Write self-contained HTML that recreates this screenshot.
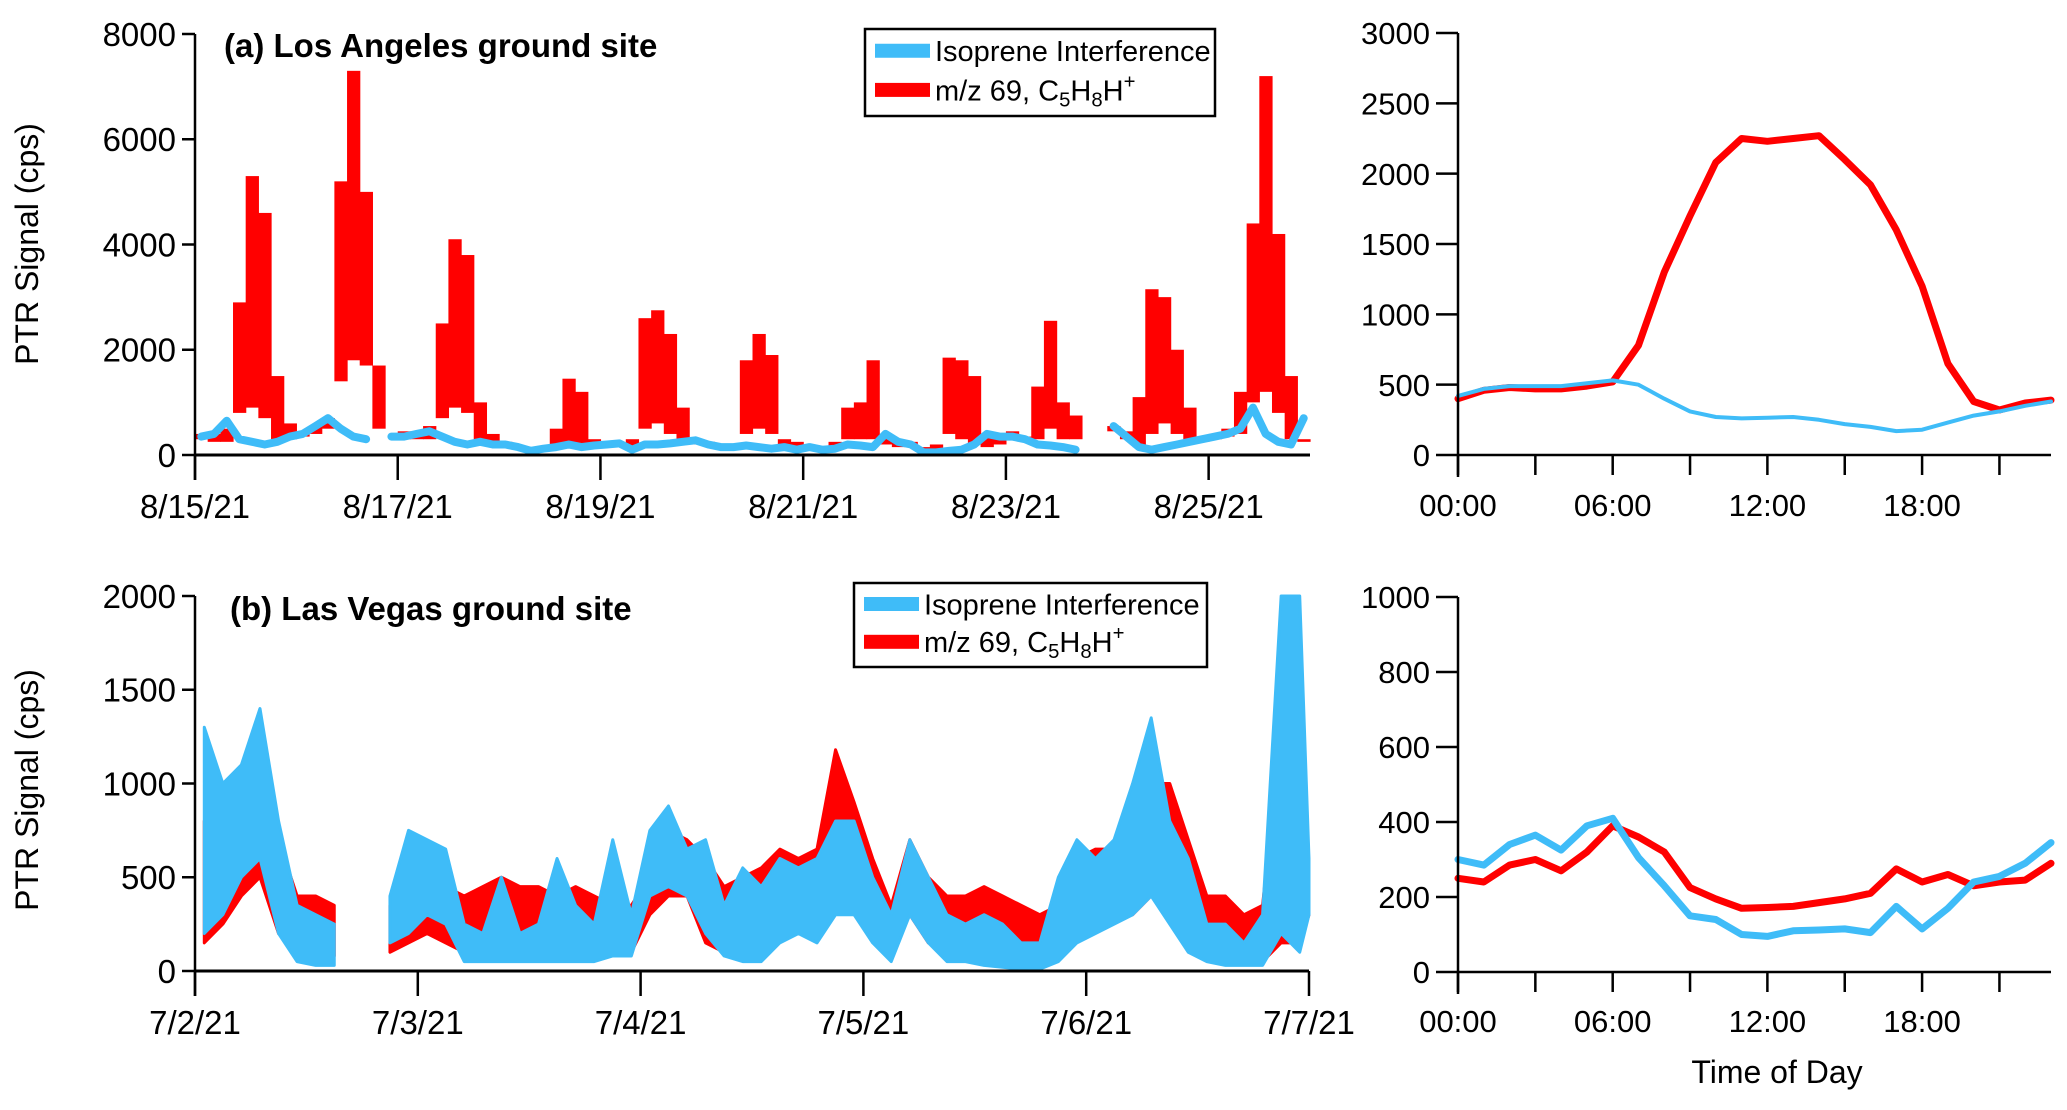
<!DOCTYPE html>
<html><head><meta charset="utf-8"><style>
html,body{margin:0;padding:0;background:#fff;}
svg{display:block;font-family:"Liberation Sans",sans-serif;}
</style></head><body>
<svg id="fig" width="2067" height="1110" viewBox="0 0 2067 1110" xmlns="http://www.w3.org/2000/svg">
<g id="layer"></g>
</svg>
<script>
// ---------- Data ----------
// Panel a: Los Angeles, 3-hour bins from 8/15/21 00:00 (11 days x 8 bins)
const laRedMax = [400,400,500,2900,5300,4600,1500,600, 450,550,700,5200,7300,5000,1700,null, 450,400,550,2500,4100,3800,1000,400, 250,150,100,150,500,1450,1200,300, 200,200,300,2600,2750,2300,900,300, 250,200,200,1800,2300,1900,300,250, 150,150,250,900,1000,1800,400,250, 250,150,200,1850,1800,1500,400,400, 450,350,1300,2550,1000,750,null,null, 550,450,1100,3150,3000,2000,900,350, 400,500,1200,4400,7200,4200,1500,300];
const laRedMin = [300,250,250,800,900,700,300,300, 350,400,500,1400,1800,1700,500,null, 300,300,300,700,900,800,300,200, 150,100,50,100,150,200,200,150, 150,150,150,500,600,400,200,200, 200,150,150,400,500,400,150,150, 100,100,100,300,300,300,200,150, 150,50,50,400,300,200,150,200, 300,250,300,500,300,300,null,null, 450,300,150,400,600,400,200,250, 300,350,400,1000,1200,800,300,250];
const laBlue = [350,400,650,300,250,200,250,350, 400,550,700,500,350,300,null,350, 350,400,450,350,250,200,250,200, 200,150,80,120,150,200,150,180, 200,220,100,200,200,220,250,280, 200,150,150,180,150,120,150,100, 150,100,120,200,180,150,400,250, 200,50,50,80,100,200,400,350, 350,300,200,180,150,100,null,null, 550,350,150,100,150,200,250,300, 350,400,500,900,400,250,200,700];
// Panel b: Las Vegas, 2-hour bins from 7/2/21 00:00
const lvRedMax = [800,700,900,1000,700,400,400,350,null,null,350,450,500,450,400,450,500,450,450,400,450,400,350,350,500,750,700,600,450,500,550,650,600,650,1180,900,600,350,700,500,400,400,450,400,350,300,350,600,650,650,900,1000,1000,700,400,400,300,350,1300,800,550];
const lvRedMin = [150,250,400,500,200,100,100,80,null,null,100,150,200,150,100,150,150,150,150,100,100,100,100,100,300,400,400,150,100,100,150,200,250,300,400,350,200,100,300,150,100,100,100,100,80,80,100,200,250,300,300,400,300,150,100,100,80,50,150,150,300];
const lvBlueMax = [1300,1000,1100,1400,800,350,300,250,null,null,400,750,700,650,250,200,500,200,250,600,350,250,700,300,750,880,650,700,350,550,450,600,550,600,800,800,500,300,700,500,300,250,300,250,150,150,500,700,600,700,1000,1350,800,600,250,250,150,300,2000,2000,600];
const lvBlueMin = [200,300,500,600,200,50,30,30,null,null,150,200,300,250,50,50,50,50,50,50,50,50,80,80,400,450,400,200,80,50,50,150,200,150,300,300,150,50,300,150,50,50,30,20,10,10,50,150,200,250,300,400,250,100,50,30,30,30,200,100,300];
// Diurnal (hourly, 0..23)
const hours = [0,1,2,3,4,5,6,7,8,9,10,11,12,13,14,15,16,17,18,19,20,21,22,23];
const laDiurnalRed = [400,460,480,470,470,490,520,780,1300,1700,2080,2250,2230,2250,2270,2100,1920,1600,1200,650,380,320,370,390];
const laDiurnalBlue = [420,470,490,490,490,510,530,500,400,310,270,260,265,270,250,220,200,170,180,230,280,310,350,380];
const lvDiurnalRed = [250,240,285,300,270,320,390,360,320,225,195,170,172,175,185,195,210,275,240,260,230,240,245,290];
const lvDiurnalBlue = [300,285,340,365,325,390,410,305,230,150,140,100,95,110,112,115,105,175,115,170,240,255,290,345];
// Tick labels
const laYTicks = [0,2000,4000,6000,8000];
const laXTickLabels = ["8/15/21","8/17/21","8/19/21","8/21/21","8/23/21","8/25/21"];
const lvYTicks = [0,500,1000,1500,2000];
const lvXTickLabels = ["7/2/21","7/3/21","7/4/21","7/5/21","7/6/21","7/7/21"];
const dTopYTicks = [0,500,1000,1500,2000,2500,3000];
const dBotYTicks = [0,200,400,600,800,1000];
const dXTickLabels = ["00:00","06:00","12:00","18:00"];

const RED="#ff0000", BLUE="#3fbcf8";
const NS="http://www.w3.org/2000/svg";
const layer=document.getElementById('layer');
function mk(tag,attrs,parent){const e=document.createElementNS(NS,tag);for(const k in attrs)e.setAttribute(k,attrs[k]);(parent||layer).appendChild(e);return e;}
function txt(s,x,y,size,anchor,parent,extra){const t=mk('text',Object.assign({x:x,y:y,'font-size':size,'text-anchor':anchor||'middle',fill:'#000'},extra||{}),parent);t.textContent=s;return t;}
function scale(d0,d1,r0,r1){return v=>r0+(v-d0)/(d1-d0)*(r1-r0);}

function band(xf,yf,maxA,minA,color,parent){
  let seg=[];
  const flush=()=>{ if(seg.length){ const top=seg.map(i=>[xf(i),yf(maxA[i])]); const bot=seg.slice().reverse().map(i=>[xf(i),yf(minA[i])]);
    const p=mk('polygon',{points:top.concat(bot).map(q=>q.join(',')).join(' '),fill:color,stroke:color,'stroke-width':3,'stroke-linejoin':'round'},parent);
    
    
    seg=[];}};
  for(let i=0;i<maxA.length;i++){ if(maxA[i]==null) flush(); else seg.push(i);} flush();
}
function stepBars(x0f,x1f,yf,maxA,minA,color,parent){
  for(let i=0;i<maxA.length;i++){ if(maxA[i]==null) continue;
    const r=mk('rect',{x:x0f(i),y:yf(maxA[i]),width:x1f(i)-x0f(i)+0.6,height:yf(minA[i])-yf(maxA[i]),fill:color},parent);
    
    
  }
}
function line(xs,ys,color,w,parent,name){
  let d='',pen=false;
  for(let i=0;i<ys.length;i++){ if(ys[i]==null){pen=false;continue;} d+=(pen?'L':'M')+xs(i).toFixed(1)+','+ys[i].toFixed(1); pen=true;}
  const p=mk('path',{d:d,fill:'none',stroke:color,'stroke-width':w,'stroke-linejoin':'round','stroke-linecap':'round'},parent);
  
  
  return p;
}
function yaxis(g,x,yf,ticks,tickLen,fs,top,bottom){
  mk('line',{x1:x,y1:top,x2:x,y2:bottom,stroke:'#000','stroke-width':2.5},g);
  ticks.forEach(v=>{const y=yf(v);mk('line',{x1:x-tickLen,y1:y,x2:x,y2:y,stroke:'#000','stroke-width':2.5},g);
    const t=txt(String(v),x-tickLen-6,y+fs*0.36,fs,'end',g);
    
    });
}
function legend(g,x,y,w,h,fs){
  const L=mk('g',{},g);
  
  
  mk('rect',{x:x,y:y,width:w,height:h,fill:'#fff',stroke:'#000','stroke-width':2.5},L);
  const e1=mk('rect',{x:x+10,y:y+h*0.25-7,width:55,height:14,fill:BLUE},L);
  
  
  txt('Isoprene Interference',x+70,y+h*0.25+fs*0.36,fs,'start',L);
  const e2=mk('rect',{x:x+10,y:y+h*0.7-7,width:55,height:14,fill:RED},L);
  
  
  const t=mk('text',{x:x+70,y:y+h*0.7+fs*0.36,'font-size':fs,fill:'#000'},L);
  t.innerHTML='m/z 69, C<tspan font-size="'+(fs*0.7)+'" dy="6">5</tspan><tspan dy="-6">H</tspan><tspan font-size="'+(fs*0.7)+'" dy="6">8</tspan><tspan dy="-6">H</tspan><tspan font-size="'+(fs*0.7)+'" dy="-12">+</tspan>';
}

// ---------- Panel a ----------
(function(){
  const g=mk('g',{});  
  const X0=195,X1=1310,Y0=455,Y1=34;
  const xDay=scale(0,11,X0,X1), y=scale(0,8000,Y0,Y1);
  const xb=i=>xDay((i+0.5)*3/24);
  stepBars(i=>xDay(i*3/24),i=>xDay((i+1)*3/24),y,laRedMax,laRedMin,RED,g);
  line(xb,laBlue.map(v=>v==null?null:y(v)),BLUE,8,g,'isoprene-interference-line');
  yaxis(g,X0,y,laYTicks,13,33,Y1,480);
  mk('line',{x1:X0,y1:Y0,x2:X1,y2:Y0,stroke:'#000','stroke-width':3},g);
  laXTickLabels.forEach((s,i)=>{const x=xDay(i*2);mk('line',{x1:x,y1:Y0,x2:x,y2:480,stroke:'#000','stroke-width':2.5},g);
    const t=txt(s,x,518,33,'middle',g);  });
  const ti=txt('(a) Los Angeles ground site',224,57,33,'start',g,{'font-weight':'bold'});
   
  const yl=txt('PTR Signal (cps)',0,0,32,'middle',g,{transform:'translate(38,244) rotate(-90)'});
   
  legend(g,865,29,350,87,29);
})();

// ---------- Panel b ----------
(function(){
  const g=mk('g',{});  
  const X0=195,X1=1309,Y0=971,Y1=596;
  const xDay=scale(0,5,X0,X1), y=scale(0,2000,Y0,Y1);
  const xb=i=>xDay(Math.min(i*2+1,120)/24);
  band(xb,y,lvRedMax,lvRedMin,RED,g);
  band(xb,y,lvBlueMax,lvBlueMin,BLUE,g);
  yaxis(g,X0,y,lvYTicks,13,33,Y1,996);
  mk('line',{x1:X0,y1:Y0,x2:X1,y2:Y0,stroke:'#000','stroke-width':3},g);
  lvXTickLabels.forEach((s,i)=>{const x=xDay(i);mk('line',{x1:x,y1:Y0,x2:x,y2:996,stroke:'#000','stroke-width':2.5},g);
    const t=txt(s,x,1034,33,'middle',g);  });
  const ti=txt('(b) Las Vegas ground site',230,620,33,'start',g,{'font-weight':'bold'});
   
  const yl=txt('PTR Signal (cps)',0,0,32,'middle',g,{transform:'translate(38,790) rotate(-90)'});
   
  legend(g,854,583,353,84,29);
})();

// ---------- Diurnal panels ----------
function diurnal(name,Y0,Y1,ymax,ticks,red,blue,blueW,labY){
  const g=mk('g',{});  
  const X0=1458,X1=2051;
  const x=scale(0,23,X0,X1), y=scale(0,ymax,Y0,Y1);
  line(i=>x(hours[i]),red.map(y),RED,7,g,'mz69-diurnal-line');
  line(i=>x(hours[i]),blue.map(y),BLUE,blueW,g,'isoprene-interference-diurnal-line');
  yaxis(g,X0,y,ticks,22,31,Y1,Y0+22);
  mk('line',{x1:X0,y1:Y0,x2:X1,y2:Y0,stroke:'#000','stroke-width':2.5},g);
  for(let h=0;h<24;h+=3){const xx=x(h);mk('line',{x1:xx,y1:Y0,x2:xx,y2:Y0+20,stroke:'#000','stroke-width':2.5},g);}
  dXTickLabels.forEach((s,i)=>{const t=txt(s,x(i*6),labY,31,'middle',g);  });
  return g;
}
diurnal('panel-a-diurnal',455,33,3000,dTopYTicks,laDiurnalRed,laDiurnalBlue,4,516);
const gb=diurnal('panel-b-diurnal',972,597,1000,dBotYTicks,lvDiurnalRed,lvDiurnalBlue,7,1032);
const xt=txt('Time of Day',1777,1083,32,'middle',gb);


</script>
</body></html>
